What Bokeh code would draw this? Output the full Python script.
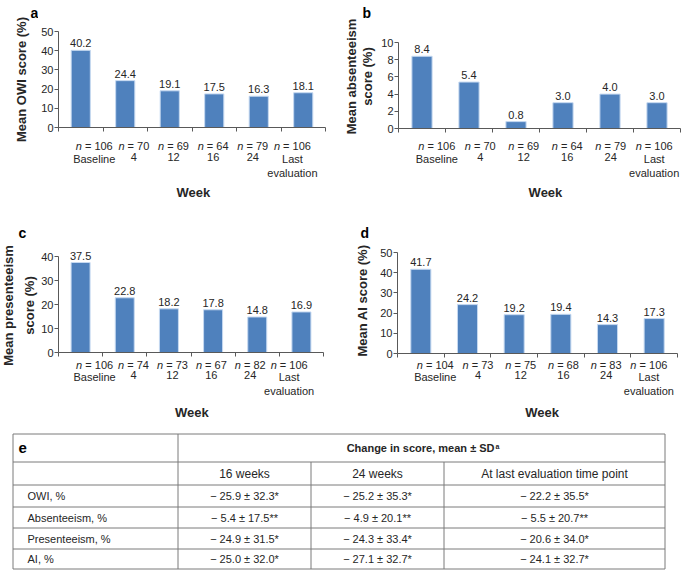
import math
from bokeh.plotting import figure
from bokeh.models import Range1d, FixedTicker, SingleIntervalTicker, LabelSet, ColumnDataSource
from bokeh.layouts import column, row
from bokeh.embed import file_html
from bokeh.resources import INLINE
from bokeh.core.properties import value

# ---------------- data ----------------
weeks = ["Baseline", "4", "12", "16", "24", "Last\nevaluation"]

owi = [40.2, 24.4, 19.1, 17.5, 16.3, 18.1]
owi_n = [106, 70, 69, 64, 79, 106]
absent = [8.4, 5.4, 0.8, 3.0, 4.0, 3.0]
absent_n = [106, 70, 69, 64, 79, 106]
present = [37.5, 22.8, 18.2, 17.8, 14.8, 16.9]
present_n = [106, 74, 73, 67, 82, 106]
ai = [41.7, 24.2, 19.2, 19.4, 14.3, 17.3]
ai_n = [104, 73, 75, 68, 83, 106]

table_rows = ["OWI, %", "Absenteeism, %", "Presenteeism, %", "AI, %"]
table_cols = ["16 weeks", "24 weeks", "At last evaluation time point"]
mean_16 = [-25.9, -5.4, -24.9, -25.0]
sd_16 = [32.3, 17.5, 31.5, 32.0]
mean_24 = [-25.2, -4.9, -24.3, -27.1]
sd_24 = [35.3, 20.1, 33.4, 32.7]
mean_last = [-22.2, -5.5, -20.6, -24.1]
sd_last = [35.5, 20.7, 34.0, 32.7]
signif = ["*", "**", "*", "*"]

# ---------------- style ----------------
FONT = "Liberation Sans"
TXT = "#262626"
AXC = "#595959"
BAR = "#4F81BD"
EDGE = "#c6d9f1"

CW = {c: 0.556 for c in "0123456789n"}
CW[" "] = 0.278
CW["="] = 0.584


def tw(s, size):
    return sum(CW.get(ch, 0.556) for ch in s) * size


def blank(w, h):
    f = figure(width=w, height=h, x_range=Range1d(0, w), y_range=Range1d(0, h),
               output_backend="svg", toolbar_location=None, min_border=0,
               x_axis_type=None, y_axis_type=None, outline_line_color=None)
    return f


def panel(vals, ns, ymax, step, ylabel, letter, H, wl, w, bl, br, bt, fh, pad,
          lab_x, lab_y, lab_lh, let_x, let_y, n_y, cat_y, week_y):
    ncat = len(vals)
    # ---- left strip: panel letter and y-axis title ----
    lf = blank(wl, H)
    lf.text(x=[let_x], y=[H - let_y], text=[letter], text_font=value(FONT),
            text_font_style="bold", text_font_size="14px", text_color="#000000",
            text_align="left", text_baseline="alphabetic")
    lf.text(x=[lab_x], y=[H - lab_y], text=[ylabel], angle=math.pi / 2,
            text_font=value(FONT), text_font_style="bold", text_font_size="13px",
            text_color=TXT, text_align="center", text_baseline="middle",
            text_line_height=lab_lh)

    # ---- main plot ----
    xr = Range1d(0, ncat)
    top = ymax * (1 + pad / fh)
    mh = bt + fh + 5
    p = figure(width=w, height=mh, x_range=xr, y_range=Range1d(0, top),
               output_backend="svg", toolbar_location=None,
               min_border_left=bl, min_border_right=br, min_border_top=bt - pad,
               min_border_bottom=5, outline_line_color=None)
    p.xgrid.visible = False
    p.ygrid.visible = False
    xs = [i + 0.5 for i in range(ncat)]
    src = ColumnDataSource(dict(x=xs, v=vals, vt=[f"{v:.1f}" for v in vals]))
    p.vbar(x="x", top="v", width=0.43, source=src, fill_color=BAR,
           line_color=EDGE, line_width=1)
    p.add_layout(LabelSet(x="x", y="v", text="vt", source=src, y_offset=3,
                          text_align="center", text_baseline="alphabetic",
                          text_font=value(FONT), text_font_size="11px", text_color=TXT))

    xa = p.xaxis[0]
    xa.ticker = FixedTicker(ticks=list(range(ncat + 1)))
    xa.major_label_text_font_size = "0px"
    xa.major_label_text_color = None
    xa.major_label_standoff = 0
    xa.major_tick_in = 0
    xa.major_tick_out = 4
    xa.minor_tick_line_color = None
    xa.axis_line_color = AXC
    xa.major_tick_line_color = AXC

    ya = p.yaxis[0]
    ya.ticker = SingleIntervalTicker(interval=step)
    ya.bounds = (0, ymax)
    ya.major_tick_in = 0
    ya.major_tick_out = 4
    ya.minor_tick_line_color = None
    ya.axis_line_color = AXC
    ya.major_tick_line_color = AXC
    ya.major_label_text_font = FONT
    ya.major_label_text_font_size = "11px"
    ya.major_label_text_color = TXT
    ya.major_label_standoff = 1

    # ---- strip below the axis: sample sizes, week names, axis title ----
    # same horizontal scale as the plot, but with no borders so nothing is clipped
    sh = H - mh
    k = (w - bl - br) / ncat
    s = figure(width=w, height=sh, x_range=Range1d(-bl / k, ncat + br / k),
               y_range=Range1d(sh, 0),
               output_backend="svg", toolbar_location=None, min_border=0,
               x_axis_type=None, y_axis_type=None, outline_line_color=None)
    fs = 11
    nrest = [f"= {n}" for n in ns]
    widths = [tw("n " + r, fs) for r in nrest]
    ssrc = ColumnDataSource(dict(
        x=xs, cat=weeks, nn=["n"] * ncat, nrest=nrest,
        nx=[-wd / 2 for wd in widths],
        rx=[-wd / 2 + tw("n ", fs) for wd in widths],
    ))
    s.text(x="x", y=n_y, text="nn", x_offset="nx", source=ssrc, text_align="left",
           text_baseline="middle", text_font_style="italic", text_font=value(FONT),
           text_font_size="11px", text_color=TXT)
    s.text(x="x", y=n_y, text="nrest", x_offset="rx", source=ssrc, text_align="left",
           text_baseline="middle", text_font=value(FONT), text_font_size="11px", text_color=TXT)
    s.text(x="x", y=cat_y, text="cat", source=ssrc, text_align="center",
           text_baseline="top", text_font=value(FONT), text_font_size="11px",
           text_color=TXT, text_line_height=1.2)
    s.text(x=[ncat / 2], y=[week_y], text=["Week"], text_align="center",
           text_baseline="middle", text_font=value(FONT), text_font_style="bold",
           text_font_size="13px", text_color=TXT)
    return row(lf, column(p, s, spacing=0), spacing=0)


pa = panel(owi, owi_n, 50, 10, "Mean OWI score (%)", "a", 200, 38, 302, 18, 15, 31, 96, 0,
           21, 79, 1.2, 30, 12, 13, 20.5, 60)
pb = panel(absent, absent_n, 10, 2, "Mean absenteeism\nscore (%)", "b", 200, 38, 307, 18, 5, 42, 86, 0,
           19, 76, 1.05, 22, 12, 12, 19.5, 59)
pc = panel(present, present_n, 40, 10, "Mean presenteeism\nscore (%)", "c", 225, 38, 302, 19, 17, 56, 96, 8,
           18, 105, 1.4, 18, 32, 7, 13.5, 55)
pd_ = panel(ai, ai_n, 50, 10, "Mean AI score (%)", "d", 225, 37, 308, 18, 8, 52, 101, 8,
            22, 100, 1.2, 20, 32, 6, 12.5, 54)

# ---------------- table ----------------
TW, TH = 685, 154
t = figure(width=TW, height=TH, x_range=Range1d(0, TW), y_range=Range1d(TH, 0),
           output_backend="svg", toolbar_location=None, min_border=0,
           x_axis_type=None, y_axis_type=None, outline_line_color=None)

col_x = [12.5, 177.5, 310.5, 443.5, 664.5]
row_y = [8.5, 36.5, 59.5, 81.5, 102.5, 123.5, 143.5]
LC = "#7a7a7a"
t.segment(x0=[col_x[0]] * len(row_y), x1=[col_x[-1]] * len(row_y), y0=row_y, y1=row_y,
          line_color=LC, line_width=1)
t.segment(x0=[col_x[0], col_x[1], col_x[4]], x1=[col_x[0], col_x[1], col_x[4]],
          y0=[row_y[0]] * 3, y1=[row_y[-1]] * 3, line_color=LC, line_width=1)
t.segment(x0=[col_x[2], col_x[3]], x1=[col_x[2], col_x[3]],
          y0=[row_y[1]] * 2, y1=[row_y[-1]] * 2, line_color=LC, line_width=1)

hy = (row_y[0] + row_y[1]) / 2
t.text(x=[18], y=[hy], text=["e"], text_font=value(FONT),
       text_font_style="bold", text_font_size="15px", text_color="#000000",
       text_align="left", text_baseline="middle")
t.text(x=[494], y=[hy], text=["Change in score, mean ± SD"],
       text_font=value(FONT), text_font_style="bold", text_font_size="11px", text_color=TXT,
       text_align="right", text_baseline="middle")
t.text(x=[495], y=[hy - 2], text=["a"],
       text_font=value(FONT), text_font_style="bold", text_font_size="7px", text_color=TXT,
       text_align="left", text_baseline="middle")

ccx = [(col_x[i] + col_x[i + 1]) / 2 for i in range(1, 4)]
t.text(x=ccx, y=[(row_y[1] + row_y[2]) / 2] * 3, text=table_cols, text_font=value(FONT),
       text_font_size="12px", text_color=TXT, text_align="center", text_baseline="middle")

ry = [(row_y[i] + row_y[i + 1]) / 2 for i in range(2, 6)]
t.text(x=[27] * 4, y=ry, text=table_rows, text_font=value(FONT), text_font_size="11px",
       text_color=TXT, text_align="left", text_baseline="middle")


def fmt(m, s, g):
    return f"\u2212 {abs(m):.1f} \u00b1 {s:.1f}{g}"


for cx, means, sds in zip(ccx, [mean_16, mean_24, mean_last], [sd_16, sd_24, sd_last]):
    t.text(x=[cx] * 4, y=ry, text=[fmt(m, s, g) for m, s, g in zip(means, sds, signif)],
           text_font=value(FONT), text_font_size="11px", text_color=TXT,
           text_align="center", text_baseline="middle")

layout = column(row(pa, pb, spacing=0), row(pc, pd_, spacing=0), t, spacing=0)
open("out.html", "w").write(file_html(layout, INLINE))
